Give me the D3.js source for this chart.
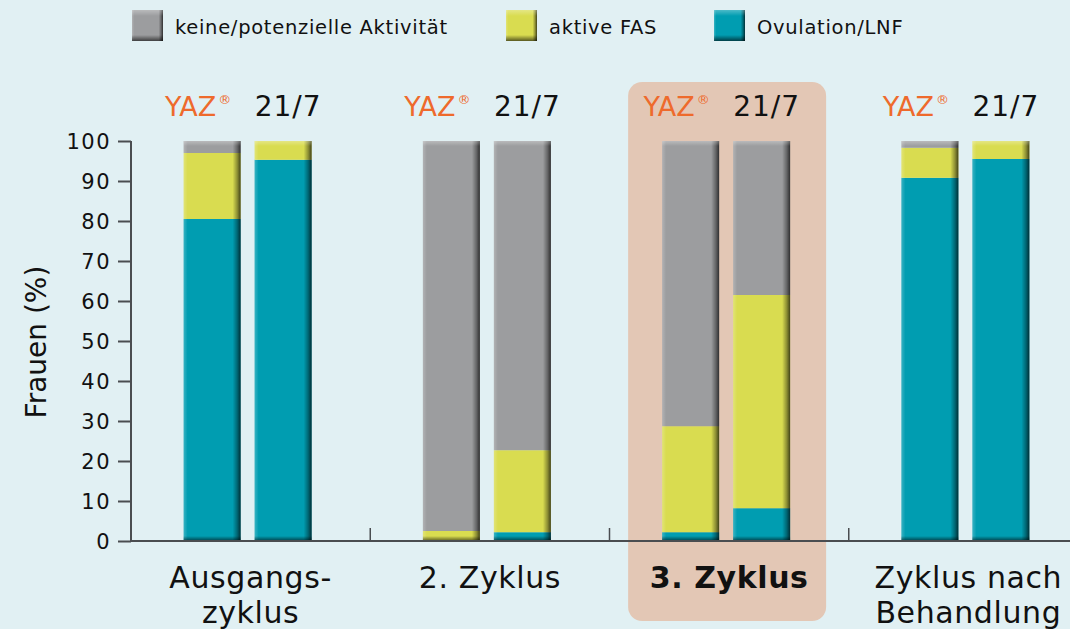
<!DOCTYPE html>
<html>
<head>
<meta charset="utf-8">
<script src="https://cdn.jsdelivr.net/npm/d3@7"></script>
<style>
  html, body { margin: 0; padding: 0; background: #e1f0f3; }
  svg { display: block; font-family: "DejaVu Sans", sans-serif; }
</style>
</head>
<body>
<svg id="chart" width="1070" height="629"></svg>
<script>
// data
const groups = ['Ausgangs-\nzyklus', '2. Zyklus', '3. Zyklus', 'Zyklus nach\nBehandlung'];
const regimens = ['YAZ', '21/7'];
const seriesNames = ['Ovulation/LNF', 'aktive FAS', 'keine/potenzielle Aktivität'];
const seriesKeys = ['ovu', 'fas', 'keine'];
// one entry per bar (YAZ, 21/7 for each cycle), values in stack order
const ovulation = [80.5, 95.3, 0, 2.2, 2.2, 8.2, 90.8, 95.5];
const activeFas = [16.5, 4.7, 2.5, 20.5, 26.5, 53.3, 7.5, 4.5];
const noActivity = [3, 0, 97.5, 77.3, 71.3, 38.5, 1.7, 0];
const yTicks = [0, 10, 20, 30, 40, 50, 60, 70, 80, 90, 100];
const highlighted = '3. Zyklus';

const colors = { ovu: '#009db1', fas: '#d9dc50', keine: '#9c9d9f' };

const rows = ovulation.map((v, i) => ({
  group: groups[Math.floor(i / 2)],
  reg: regimens[i % 2],
  ovu: v, fas: activeFas[i], keine: noActivity[i]
}));

const svg = d3.select('#chart');
const defs = svg.append('defs');

const x = d3.scaleBand().domain(groups).range([131, 1088]);
const xSub = d3.scaleBand().domain(regimens).range([-64, 64]).paddingInner(0.197);
const y = d3.scaleLinear().domain([0, 100]).range([541, 141]);
const mid = g => x(g) + x.bandwidth() / 2;
const barMid = g => mid(g) - 3;

// highlight panel behind the 3rd group
svg.append('rect')
  .attr('x', barMid(highlighted) + 1 - 99).attr('y', 82)
  .attr('width', 198).attr('height', 539)
  .attr('rx', 14)
  .attr('fill', '#e3c7b5');

// gradients for bevel look
const hg = defs.append('linearGradient').attr('id', 'hshade').attr('x1', 0).attr('x2', 1).attr('y1', 0).attr('y2', 0);
hg.append('stop').attr('offset', 0).attr('stop-color', '#fff').attr('stop-opacity', 0.22);
hg.append('stop').attr('offset', 0.07).attr('stop-color', '#fff').attr('stop-opacity', 0);
hg.append('stop').attr('offset', 0.86).attr('stop-color', '#000').attr('stop-opacity', 0);
hg.append('stop').attr('offset', 0.94).attr('stop-color', '#000').attr('stop-opacity', 0.35);
hg.append('stop').attr('offset', 1).attr('stop-color', '#000').attr('stop-opacity', 0.7);
const tg = defs.append('linearGradient').attr('id', 'topshade').attr('x1', 0).attr('x2', 0).attr('y1', 0).attr('y2', 1);
tg.append('stop').attr('offset', 0).attr('stop-color', '#fff').attr('stop-opacity', 0.3);
tg.append('stop').attr('offset', 1).attr('stop-color', '#fff').attr('stop-opacity', 0);
const bg = defs.append('linearGradient').attr('id', 'botshade').attr('x1', 0).attr('x2', 0).attr('y1', 0).attr('y2', 1);
bg.append('stop').attr('offset', 0).attr('stop-color', '#000').attr('stop-opacity', 0);
bg.append('stop').attr('offset', 1).attr('stop-color', '#000').attr('stop-opacity', 0.6);

// stacked bars
const stack = d3.stack().keys(seriesKeys)(rows);
const barX = d => barMid(d.data.group) + xSub(d.data.reg);

svg.append('g').selectAll('g')
  .data(stack).join('g')
  .attr('fill', s => colors[s.key])
  .selectAll('rect')
  .data(s => s.filter(d => d[1] - d[0] > 0))
  .join('rect')
  .attr('x', barX)
  .attr('y', d => y(d[1]))
  .attr('width', xSub.bandwidth())
  .attr('height', d => y(d[0]) - y(d[1]));

const overlay = svg.append('g');
overlay.selectAll('rect.h').data(stack[0]).join('rect')
  .attr('x', barX).attr('y', y(100))
  .attr('width', xSub.bandwidth()).attr('height', y(0) - y(100))
  .attr('fill', 'url(#hshade)');
overlay.selectAll('rect.t').data(stack[0]).join('rect')
  .attr('x', barX).attr('y', y(100))
  .attr('width', xSub.bandwidth()).attr('height', 5)
  .attr('fill', 'url(#topshade)');
overlay.selectAll('rect.b').data(stack[0]).join('rect')
  .attr('x', barX).attr('y', y(0) - 5)
  .attr('width', xSub.bandwidth()).attr('height', 5)
  .attr('fill', 'url(#botshade)');

// y axis
const yAxis = svg.append('g')
  .attr('transform', 'translate(131,0)')
  .call(d3.axisLeft(y).tickValues(yTicks).tickSize(13).tickPadding(7));
yAxis.select('.domain').attr('stroke', '#4a4d50').attr('stroke-width', 2).attr('d', `M0,${y(0)}V${y(100)}`);
yAxis.selectAll('.tick line').attr('stroke', '#4a4d50').attr('stroke-width', 2);
yAxis.selectAll('.tick text')
  .attr('font-size', 21).attr('letter-spacing', 1.5)
  .attr('font-family', '"DejaVu Sans", sans-serif')
  .attr('fill', '#111').attr('dy', '0.36em');

// x axis baseline and separators
svg.append('line')
  .attr('x1', 131).attr('x2', 1070)
  .attr('y1', y(0)).attr('y2', y(0))
  .attr('stroke', '#4a4d50').attr('stroke-width', 2);
svg.append('g').selectAll('line')
  .data(groups.slice(1)).join('line')
  .attr('x1', g => x(g)).attr('x2', g => x(g))
  .attr('y1', y(0)).attr('y2', y(0) - 13)
  .attr('stroke', '#4a4d50').attr('stroke-width', 1.5);

// category labels
const cat = svg.append('g').selectAll('text')
  .data(groups).join('text')
  .attr('x', mid)
  .attr('y', 588)
  .attr('text-anchor', 'middle')
  .attr('font-size', 30)
  .attr('letter-spacing', 0.6)
  .attr('font-weight', g => g === highlighted ? 'bold' : 'normal')
  .attr('fill', '#111');
cat.selectAll('tspan')
  .data(g => g.split('\n').map(t => ({ t, g })))
  .join('tspan')
  .attr('x', d => mid(d.g))
  .attr('dy', (d, i) => i ? 35 : 0)
  .text(d => d.t);

// regimen labels above bars
const regLabels = svg.append('g');
groups.forEach(g => {
  const c = barMid(g);
  const yaz = regLabels.append('text')
    .attr('x', c + xSub('YAZ') + xSub.bandwidth() / 2 - 14)
    .attr('y', 116)
    .attr('text-anchor', 'middle')
    .attr('font-size', 27)
    .attr('fill', '#ee6a2c');
  yaz.append('tspan').text('YAZ');
  yaz.append('tspan').attr('font-size', 13).attr('dy', -12).attr('dx', 2).text('®');
  regLabels.append('text')
    .attr('x', c + xSub('21/7') + xSub.bandwidth() / 2 + 5)
    .attr('y', 116)
    .attr('text-anchor', 'middle')
    .attr('font-size', 28)
    .attr('letter-spacing', 1)
    .attr('fill', '#111')
    .text('21/7');
});

// y label
svg.append('text')
  .attr('transform', 'translate(46,342) rotate(-90)')
  .attr('text-anchor', 'middle')
  .attr('font-size', 28)
  .attr('fill', '#111')
  .text('Frauen (%)');

// legend
const legendX = [132, 506, 714];
const legendItems = [
  { key: 'keine', name: seriesNames[2] },
  { key: 'fas', name: seriesNames[1] },
  { key: 'ovu', name: seriesNames[0] }
];
const lg = svg.append('g').selectAll('g')
  .data(legendItems).join('g')
  .attr('transform', (d, i) => `translate(${legendX[i]},10)`);
lg.append('rect').attr('width', 31).attr('height', 31).attr('fill', d => colors[d.key]);
lg.append('rect').attr('width', 31).attr('height', 31).attr('fill', 'url(#hshade)');
lg.append('rect').attr('width', 31).attr('height', 6).attr('fill', 'url(#topshade)');
lg.append('rect').attr('y', 25).attr('width', 31).attr('height', 6).attr('fill', 'url(#botshade)');
lg.append('text')
  .attr('x', 43).attr('y', 24)
  .attr('font-size', 19.5)
  .attr('letter-spacing', 0.7)
  .attr('fill', '#111')
  .text(d => d.name);
</script>
</body>
</html>
